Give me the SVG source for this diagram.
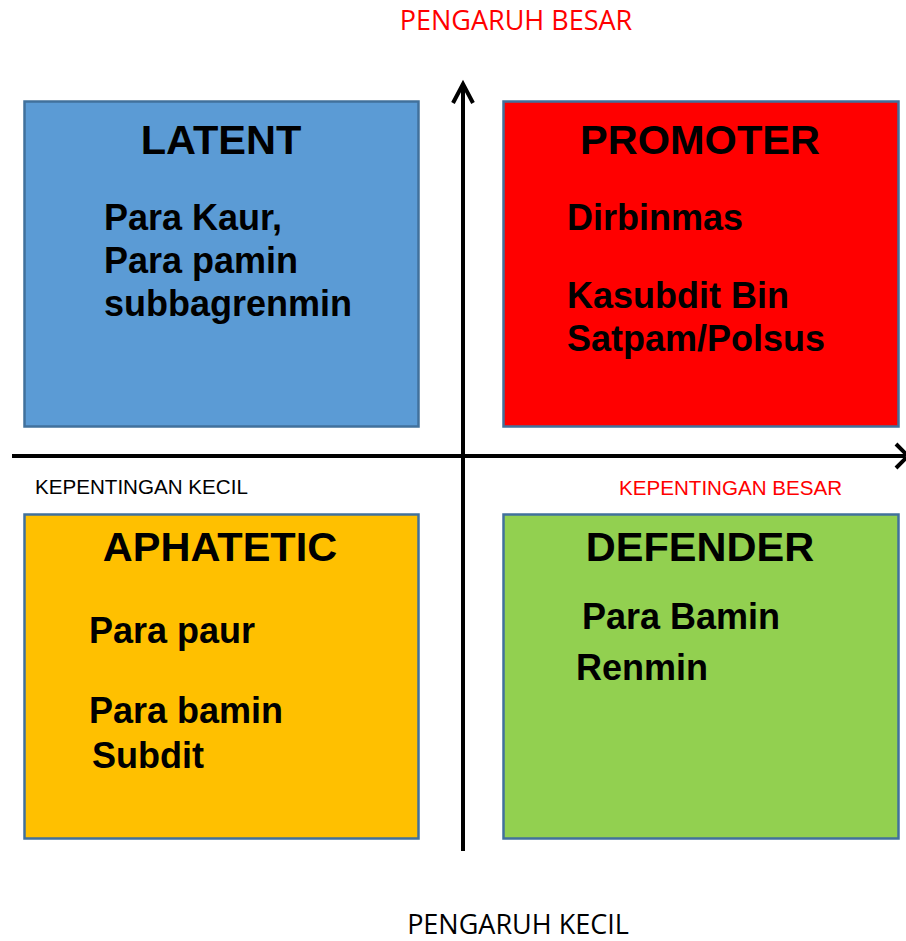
<svg xmlns="http://www.w3.org/2000/svg" width="906" height="941" viewBox="0 0 906 941">
<style>
.box{stroke:#41719c;stroke-width:2.5}
.title{font-family:"Liberation Sans",Arial,sans-serif;font-weight:bold;font-size:41.5px;fill:#000;text-anchor:middle}
.body{font-family:"Liberation Sans",Arial,sans-serif;font-weight:bold;font-size:36px;fill:#000}
.small{font-family:"Liberation Sans",Arial,sans-serif;font-size:20.6px}
.cal{font-family:"Open Sans","Liberation Sans",sans-serif;font-size:27px;text-anchor:middle}
.axis{stroke:#000;stroke-width:4;fill:none}
</style>
<rect width="906" height="941" fill="#fff"/>
<g id="latent">
<rect class="box" x="24.5" y="101.5" width="394" height="325" fill="#5b9bd5"/>
<text class="title" x="221" y="154">LATENT</text>
<text class="body" x="104" y="230">Para Kaur,</text>
<text class="body" x="104" y="273">Para pamin</text>
<text class="body" x="104" y="316">subbagrenmin</text>
</g>
<g id="promoter">
<rect class="box" x="503.5" y="101.5" width="395" height="325" fill="#ff0000"/>
<text class="title" x="700" y="154">PROMOTER</text>
<text class="body" x="567" y="230">Dirbinmas</text>
<text class="body" x="567" y="308">Kasubdit Bin</text>
<text class="body" x="567" y="351">Satpam/Polsus</text>
</g>
<g id="aphatetic">
<rect class="box" x="24.5" y="514.5" width="394" height="324" fill="#ffc000"/>
<text class="title" x="220" y="561">APHATETIC</text>
<text class="body" x="89" y="643">Para paur</text>
<text class="body" x="89" y="723">Para bamin</text>
<text class="body" x="92" y="768">Subdit</text>
</g>
<g id="defender">
<rect class="box" x="503.5" y="514.5" width="395" height="324" fill="#92d050"/>
<text class="title" x="700" y="561">DEFENDER</text>
<text class="body" x="582" y="629">Para Bamin</text>
<text class="body" x="576" y="680">Renmin</text>
</g>
<g id="connectors">
<line class="axis" x1="463" y1="851" x2="463" y2="84"/>
<polyline class="axis" points="453,103 463,84 473,103"/>
<line class="axis" x1="12" y1="456" x2="905" y2="456"/>
<polyline class="axis" points="896,444 908,456 896,468"/>
</g>
<g id="labels">
<text class="cal" x="516" y="30" fill="#ff0000">PENGARUH BESAR</text>
<text class="cal" x="518" y="934" fill="#000">PENGARUH KECIL</text>
<text class="small" x="35" y="494" fill="#000">KEPENTINGAN KECIL</text>
<text class="small" x="619" y="495" fill="#ff0000">KEPENTINGAN BESAR</text>
</g>
</svg>
